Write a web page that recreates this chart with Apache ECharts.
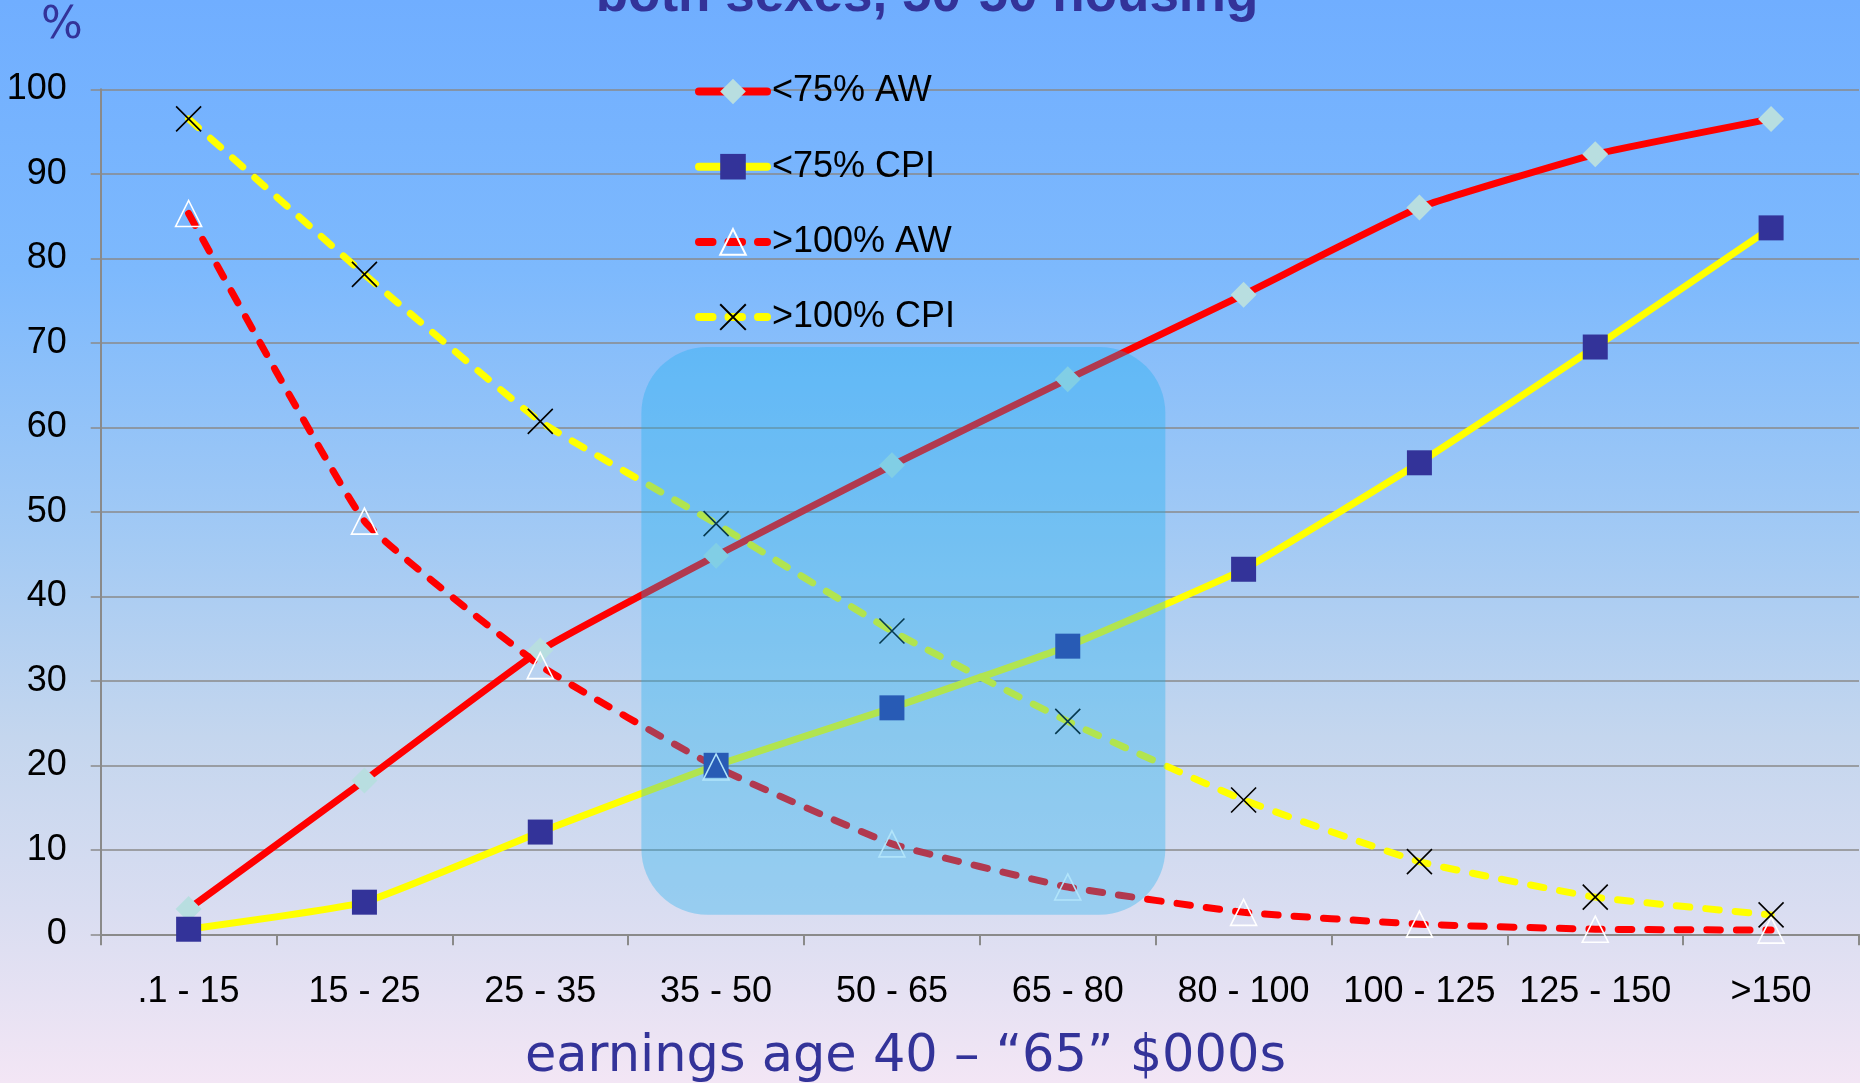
<!DOCTYPE html>
<html>
<head>
<meta charset="utf-8">
<title>both sexes, 50-50 housing</title>
<script src="https://cdn.jsdelivr.net/npm/echarts@6/dist/echarts.min.js"></script>
<style>
  html, body { margin: 0; padding: 0; }
  #chart {
    width: 1860px;
    height: 1083px;
    background: linear-gradient(to bottom,
      #70AEFF 0%, #7DB9FD 25%, #A3CAF4 50%, #C4D6EE 68%, #D9DDF1 84%, #F3E6F5 100%);
  }
</style>
</head>
<body>
<div id="chart"></div>
<script>
// Earnings bands (age 40 - "65", $000s)
const categories = ['.1 - 15', '15 - 25', '25 - 35', '35 - 50', '50 - 65',
                    '65 - 80', '80 - 100', '100 - 125', '125 - 150', '>150'];

// Share (%) of people in each band
const seriesNames = ['<75% AW', '<75% CPI', '>100% AW', '>100% CPI'];
const below75AW  = [3.0, 18.2, 33.6, 44.8, 55.5, 65.7, 75.7, 86.0, 92.3, 96.5];
const below75CPI = [0.6, 3.8, 12.1, 20.0, 26.8, 34.1, 43.2, 55.8, 69.5, 83.6];
const above100AW  = [85.3, 48.9, 31.8, 19.8, 10.7, 5.6, 2.6, 1.2, 0.6, 0.5];
const above100CPI = [96.5, 78.1, 60.7, 48.6, 35.9, 25.2, 15.9, 8.6, 4.4, 2.3];

// Highlighted region (category index units / percent)
const highlightX = [2.575, 5.555];
const highlightY = [2.3, 69.5];

const NAVY = '#333399';
const GRID_GRAY = '#8a8a8a';
const DASH = [13.5, 16];

const crossPath = 'path://M0,0L10,10M10,0L0,10';

function makeSeries(name, data, lineColor, dashed, symbol, size, itemStyle) {
  return {
    name: name,
    type: 'line',
    data: data,
    smooth: 0.12,
    symbol: symbol,
    symbolSize: size,
    showAllSymbol: true,
    silent: true,
    lineStyle: {
      color: lineColor,
      width: 7,
      type: dashed ? DASH : 'solid',
      cap: 'round',
      join: 'round'
    },
    itemStyle: itemStyle,
    emphasis: { disabled: true }
  };
}

const chart = echarts.init(document.getElementById('chart'), null, { renderer: 'canvas' });

const option = {
  animation: false,
  backgroundColor: 'transparent',
  grid: { left: 100.7, right: 1, top: 89.3, bottom: 148.7, containLabel: false },
  legend: {
    orient: 'vertical',
    left: 690,
    top: 68.5,
    itemWidth: 68,
    itemHeight: 32,
    itemGap: 39.2,
    selectedMode: false,
    data: seriesNames,
    lineStyle: { width: 8 },
    textStyle: {
      fontFamily: 'Liberation Sans, Arial, sans-serif',
      fontSize: 36,
      lineHeight: 29,
      color: '#000'
    }
  },
  xAxis: {
    type: 'category',
    data: categories,
    boundaryGap: true,
    axisLine: { show: true, lineStyle: { color: GRID_GRAY, width: 2 } },
    axisTick: { show: true, alignWithLabel: false, length: 11, lineStyle: { color: GRID_GRAY, width: 2 } },
    axisLabel: {
      margin: 40,
      interval: 0,
      fontFamily: 'Liberation Sans, Arial, sans-serif',
      fontSize: 36,
      color: '#000'
    },
    splitLine: { show: false }
  },
  yAxis: {
    type: 'value',
    min: 0,
    max: 100,
    interval: 10,
    axisLine: { show: true, lineStyle: { color: GRID_GRAY, width: 2 } },
    axisTick: { show: true, inside: false, length: 10, lineStyle: { color: GRID_GRAY, width: 1.5 } },
    axisLabel: {
      margin: 34,
      fontFamily: 'Liberation Sans, Arial, sans-serif',
      fontSize: 36,
      color: '#000'
    },
    splitLine: { show: true, lineStyle: { color: GRID_GRAY, width: 1.5 } }
  },
  series: [
    makeSeries(seriesNames[0], below75AW, '#FF0000', false, 'diamond', 26,
      { color: '#B8DEE0', borderWidth: 0 }),
    makeSeries(seriesNames[1], below75CPI, '#FFFF00', false, 'rect', 25,
      { color: NAVY, borderWidth: 0 }),
    makeSeries(seriesNames[2], above100AW, '#FF0000', true, 'triangle', 26,
      { color: 'rgba(0,0,0,0)', borderColor: '#FFFFFF', borderWidth: 1.6 }),
    makeSeries(seriesNames[3], above100CPI, '#FFFF00', true, crossPath, 25,
      { color: 'rgba(0,0,0,0)', borderColor: '#000000', borderWidth: 1.6 })
  ],
  graphic: [
    {
      type: 'text', id: 'title', z: 100, silent: true,
      x: 927, y: -4,
      style: {
        text: 'both sexes, 50-50 housing',
        fontFamily: 'Liberation Sans, Arial, sans-serif',
        fontWeight: 'bold',
        fontSize: 53,
        fill: NAVY,
        align: 'center',
        verticalAlign: 'middle'
      }
    },
    {
      type: 'text', id: 'unit', z: 100, silent: true,
      x: 62, y: 26.7,
      style: {
        text: '%',
        fontFamily: 'DejaVu Sans, sans-serif',
        fontSize: 44,
        fill: NAVY,
        align: 'center',
        verticalAlign: 'middle'
      }
    },
    {
      type: 'text', id: 'xname', z: 100, silent: true,
      x: 905.5, y: 1058,
      style: {
        text: 'earnings age 40 \u2013 \u201C65\u201D $000s',
        fontFamily: 'DejaVu Sans, sans-serif',
        fontSize: 51,
        fill: NAVY,
        align: 'center',
        verticalAlign: 'middle'
      }
    }
  ]
};

chart.setOption(option);

// Place the translucent highlight panel using the axis scales
const c0 = chart.convertToPixel({ xAxisIndex: 0 }, categories[0]);
const c1 = chart.convertToPixel({ xAxisIndex: 0 }, categories[1]);
const band = c1 - c0;
const xLeft = c0 + band * highlightX[0];
const xRight = c0 + band * highlightX[1];
const yTop = chart.convertToPixel({ yAxisIndex: 0 }, highlightY[1]);
const yBottom = chart.convertToPixel({ yAxisIndex: 0 }, highlightY[0]);

chart.setOption({
  graphic: [
    {
      type: 'rect', id: 'highlight', z: 50, silent: true,
      shape: { x: xLeft, y: yTop, width: xRight - xLeft, height: yBottom - yTop, r: 66 },
      style: { fill: 'rgba(18,174,240,0.33)' }
    }
  ]
});
</script>
</body>
</html>
